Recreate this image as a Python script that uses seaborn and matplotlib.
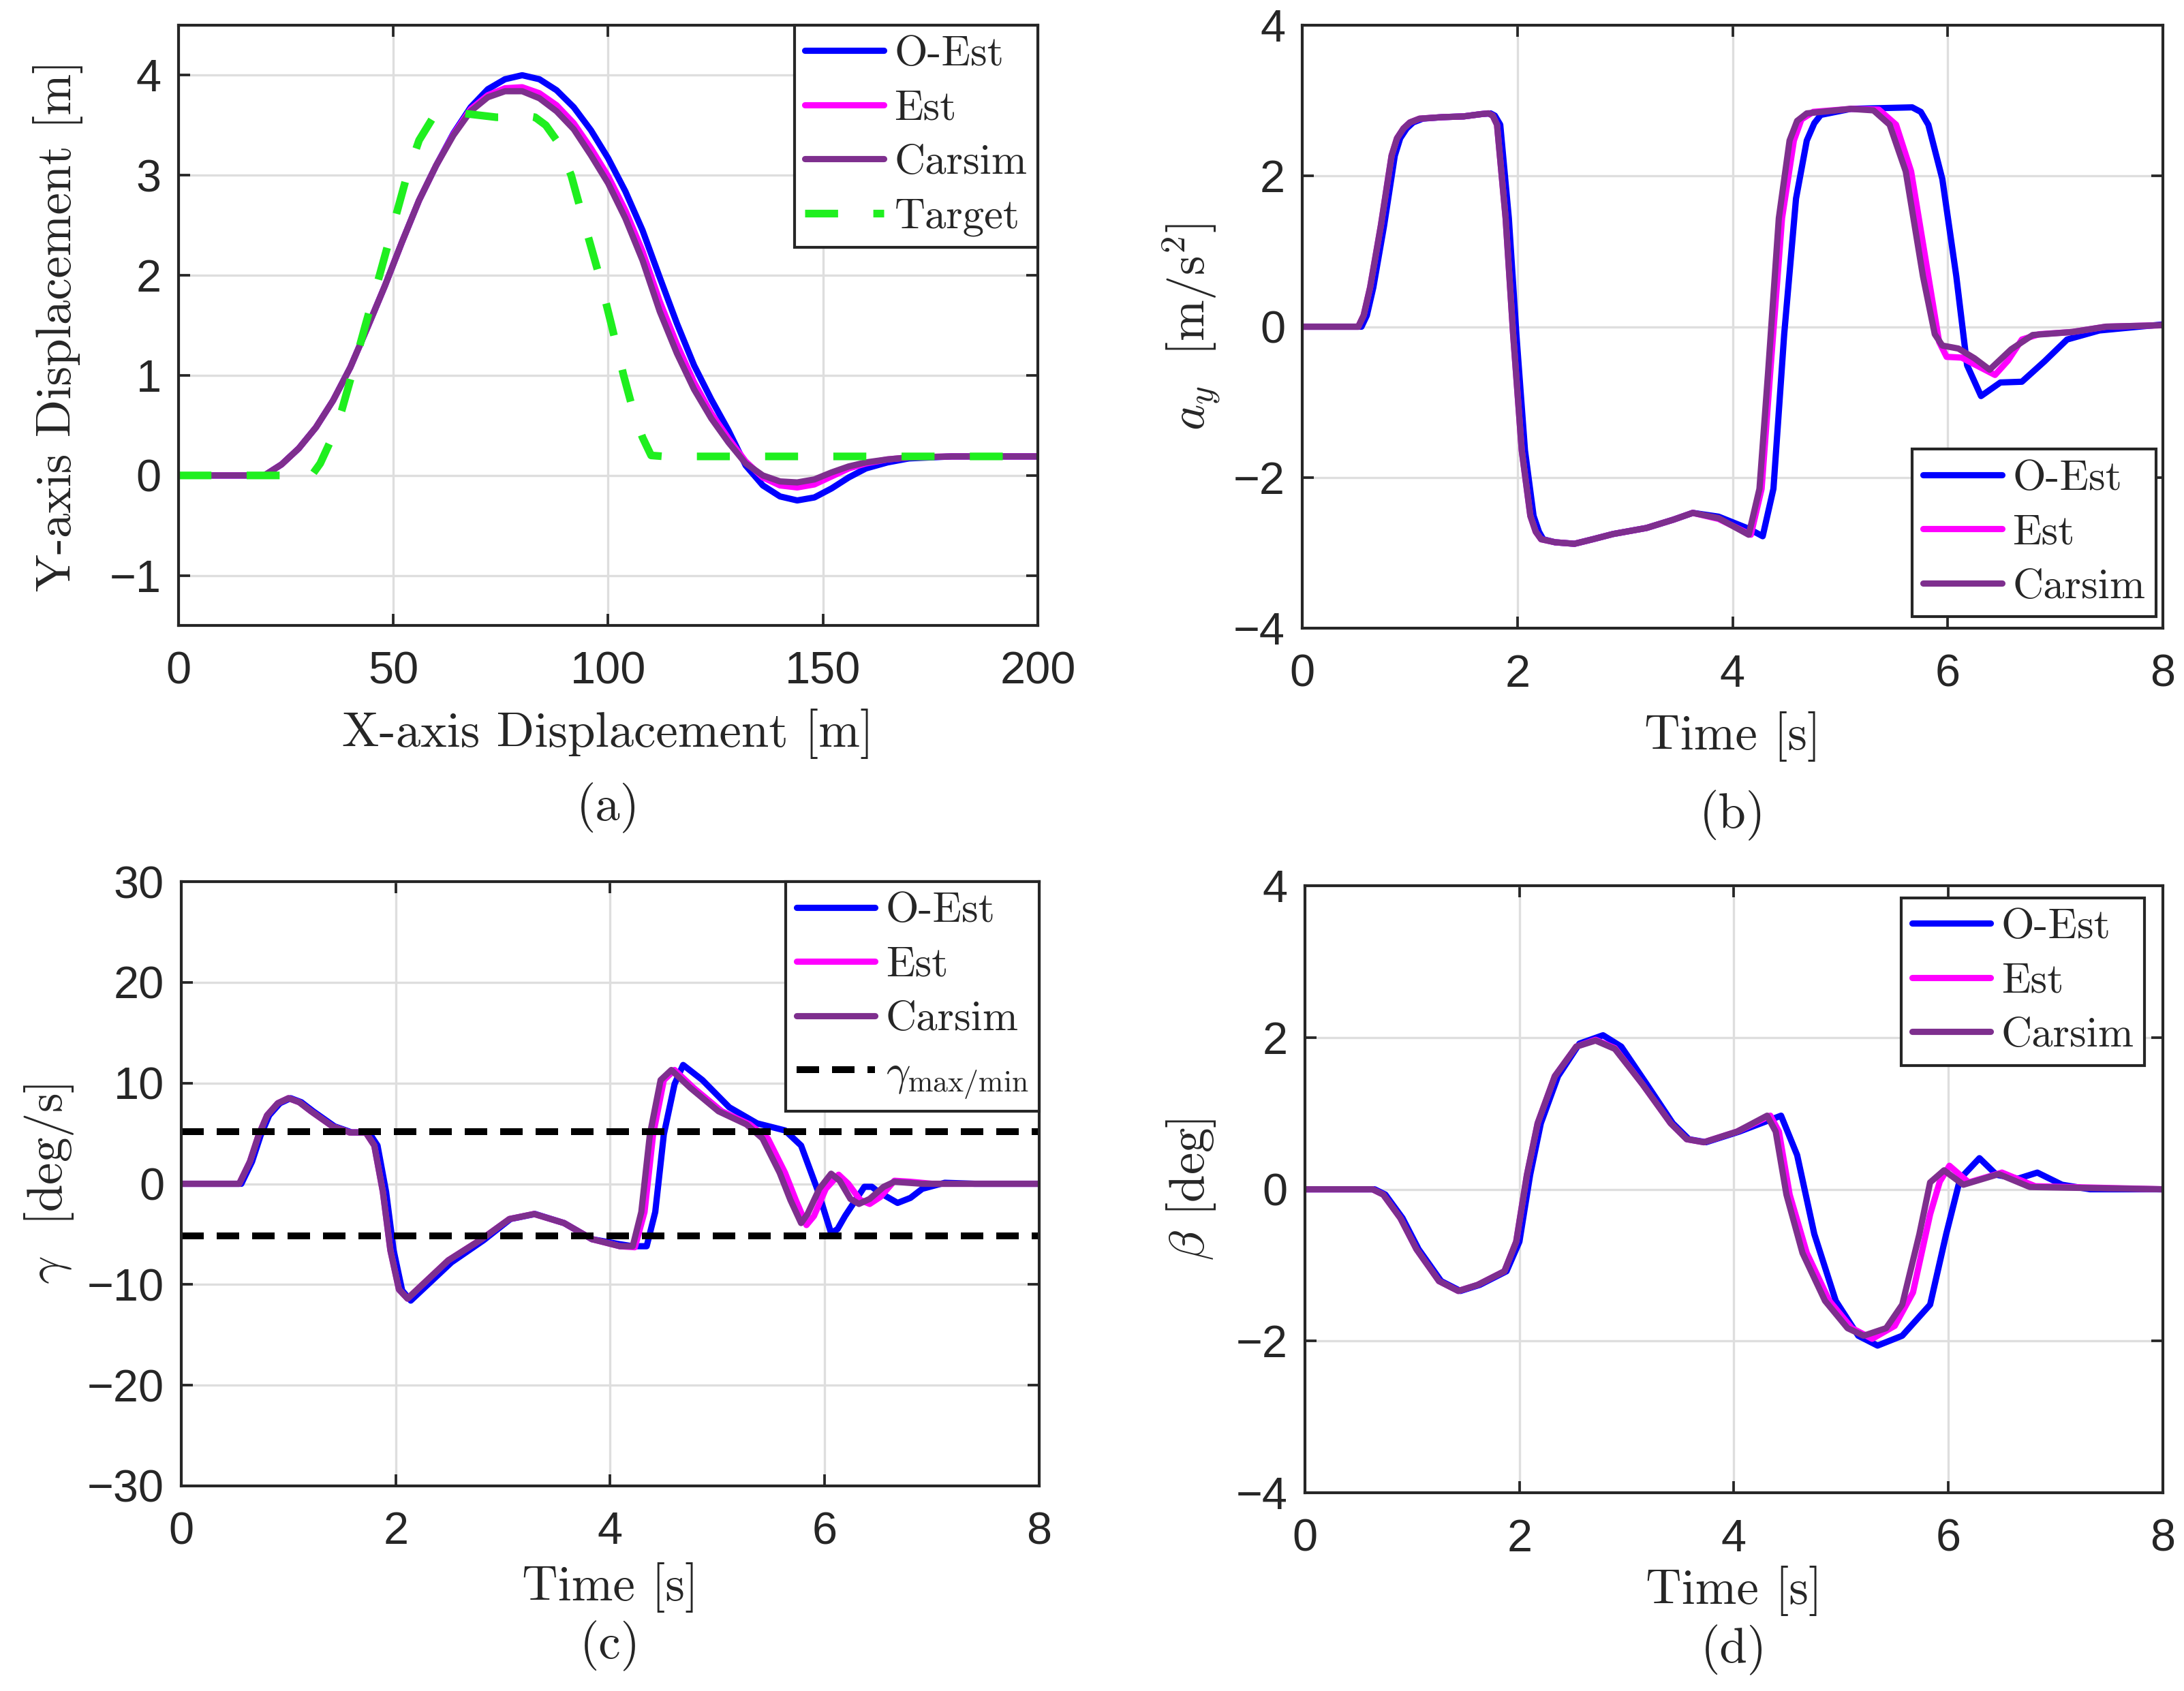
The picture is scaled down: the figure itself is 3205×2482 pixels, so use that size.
import matplotlib
matplotlib.use("Agg")
import matplotlib.pyplot as plt
import seaborn as sns

# ---------------- data ----------------
# (a) trajectory, x [m] / y [m]
carsim_a_x = [0, 20, 24, 28, 32, 36, 40, 44, 48, 52, 56, 60, 64, 68, 72, 76, 80, 84, 88, 92, 96,
              100, 104, 108, 112, 116, 120, 124, 128, 132, 136, 140, 144, 148, 152, 156, 160, 165,
              170, 180, 200]
carsim_a_y = [0, 0, 0.11, 0.27, 0.48, 0.75, 1.08, 1.48, 1.89, 2.33, 2.75, 3.10, 3.40, 3.64, 3.78,
              3.84, 3.84, 3.77, 3.64, 3.46, 3.20, 2.92, 2.57, 2.15, 1.64, 1.22, 0.86, 0.57, 0.33,
              0.12, 0.0, -0.06, -0.07, -0.04, 0.03, 0.09, 0.13, 0.16, 0.18, 0.19, 0.19]
est_a_y = [0, 0, 0.11, 0.27, 0.48, 0.75, 1.08, 1.48, 1.89, 2.33, 2.75, 3.10, 3.41, 3.66, 3.80,
           3.87, 3.88, 3.82, 3.70, 3.52, 3.27, 2.99, 2.65, 2.24, 1.74, 1.31, 0.93, 0.62, 0.37,
           0.14, -0.02, -0.10, -0.12, -0.09, -0.01, 0.07, 0.12, 0.16, 0.18, 0.19, 0.19]
oest_a_y = [0, 0, 0.11, 0.27, 0.48, 0.75, 1.08, 1.48, 1.89, 2.33, 2.75, 3.10, 3.42, 3.68, 3.86,
            3.96, 4.00, 3.96, 3.85, 3.68, 3.45, 3.17, 2.84, 2.45, 1.98, 1.52, 1.10, 0.76, 0.45,
            0.10, -0.10, -0.21, -0.25, -0.22, -0.13, -0.02, 0.07, 0.13, 0.17, 0.19, 0.19]
target_x = [0, 31, 33, 36, 38, 40.3, 43.5, 46.8, 50, 53.2, 56, 59, 62, 66, 70, 74, 77, 80, 83,
            85.5, 88, 91.4, 94.6, 97.9, 100.8, 103.6, 106, 108, 110, 113, 200]
target_y = [0, 0, 0.12, 0.40, 0.65, 1.0, 1.5, 2.0, 2.5, 3.0, 3.35, 3.56, 3.62, 3.62, 3.60, 3.58,
            3.58, 3.60, 3.58, 3.50, 3.35, 3.0, 2.5, 2.0, 1.5, 1.0, 0.62, 0.38, 0.20, 0.19, 0.19]

# (b) lateral acceleration a_y [m/s^2]
carsim_b_t = [0, 0.52, 0.57, 0.63, 0.73, 0.83, 0.88, 0.94, 1.00, 1.09, 1.30, 1.50, 1.66, 1.73,
              1.77, 1.81, 1.89, 1.96, 2.04, 2.12, 2.17, 2.22, 2.35, 2.53, 2.70, 2.89, 3.20, 3.45,
              3.63, 3.87, 4.15, 4.25, 4.33, 4.43, 4.53, 4.60, 4.69, 5.10, 5.31, 5.46, 5.61, 5.77,
              5.88, 5.95, 6.10, 6.25, 6.39, 6.59, 6.79, 7.16, 7.47, 8]
carsim_b_y = [0, 0, 0.15, 0.52, 1.34, 2.27, 2.50, 2.63, 2.71, 2.76, 2.78, 2.79, 2.82, 2.83,
              2.80, 2.68, 1.44, -0.10, -1.64, -2.51, -2.72, -2.82, -2.86, -2.88, -2.82, -2.75,
              -2.67, -2.56, -2.47, -2.54, -2.76, -2.15, -0.61, 1.44, 2.47, 2.73, 2.83, 2.89,
              2.87, 2.68, 2.06, 0.67, -0.10, -0.25, -0.29, -0.42, -0.57, -0.30, -0.11, -0.07, 0,
              0.02]
est_b_t = [0, 0.52, 0.57, 0.63, 0.73, 0.83, 0.88, 0.94, 1.00, 1.09, 1.30, 1.50, 1.66, 1.73,
           1.77, 1.81, 1.89, 1.96, 2.04, 2.12, 2.17, 2.22, 2.35, 2.53, 2.70, 2.89, 3.20, 3.45,
           3.63, 3.87, 4.17, 4.27, 4.35, 4.46, 4.57, 4.64, 4.75, 5.10, 5.36, 5.52, 5.66, 5.82,
           5.92, 5.99, 6.13, 6.25, 6.44, 6.56, 6.69, 6.85, 7.16, 7.47, 8]
est_b_y = [0, 0, 0.15, 0.52, 1.34, 2.27, 2.50, 2.63, 2.71, 2.76, 2.78, 2.79, 2.82, 2.83, 2.80,
           2.68, 1.44, -0.10, -1.64, -2.51, -2.72, -2.82, -2.86, -2.88, -2.82, -2.75, -2.67,
           -2.56, -2.47, -2.55, -2.76, -2.15, -0.61, 1.44, 2.47, 2.75, 2.85, 2.89, 2.88, 2.68,
           2.06, 0.67, -0.20, -0.40, -0.41, -0.50, -0.64, -0.45, -0.17, -0.10, -0.07, 0, 0.02]
oest_b_t = [0, 0.55, 0.60, 0.66, 0.76, 0.86, 0.91, 0.97, 1.03, 1.12, 1.30, 1.50, 1.66, 1.75,
            1.79, 1.84, 1.92, 1.99, 2.07, 2.15, 2.20, 2.24, 2.35, 2.53, 2.70, 2.89, 3.20, 3.45,
            3.63, 3.87, 4.15, 4.28, 4.38, 4.48, 4.59, 4.69, 4.76, 4.82, 5.10, 5.67, 5.75, 5.82,
            5.95, 6.08, 6.18, 6.31, 6.49, 6.69, 6.90, 7.11, 7.41, 8]
oest_b_y = [0, 0, 0.15, 0.52, 1.34, 2.27, 2.50, 2.63, 2.71, 2.76, 2.78, 2.79, 2.82, 2.83, 2.80,
            2.68, 1.44, -0.10, -1.64, -2.51, -2.72, -2.82, -2.86, -2.88, -2.82, -2.75, -2.67,
            -2.56, -2.47, -2.52, -2.68, -2.78, -2.15, -0.10, 1.70, 2.47, 2.70, 2.81, 2.89, 2.91,
            2.85, 2.68, 1.96, 0.67, -0.51, -0.92, -0.74, -0.73, -0.46, -0.17, -0.05, 0.03]

# (c) yaw rate gamma [deg/s]
carsim_c_t = [0, 0.54, 0.64, 0.72, 0.80, 0.90, 1.00, 1.10, 1.21, 1.41, 1.57, 1.72, 1.80, 1.88,
              1.95, 2.03, 2.11, 2.24, 2.49, 2.80, 3.06, 3.29, 3.57, 3.83, 4.09, 4.21, 4.29, 4.37,
              4.47, 4.57, 4.75, 5.01, 5.27, 5.42, 5.58, 5.68, 5.78, 5.84, 5.95, 6.06, 6.14, 6.24,
              6.32, 6.42, 6.55, 6.65, 6.91, 8]
carsim_c_y = [0, 0, 2.2, 4.8, 6.8, 8.0, 8.5, 8.1, 7.2, 5.7, 5.1, 5.1, 3.8, -0.8, -6.6, -10.5,
              -11.4, -10.1, -7.6, -5.5, -3.5, -3.0, -3.9, -5.5, -6.2, -6.2, -2.8, 4.9, 10.3, 11.3,
              9.5, 7.2, 5.9, 4.5, 1.1, -1.6, -3.9, -3.0, -0.5, 1.0, 0.3, -1.5, -2.0, -1.5, -0.3,
              0.2, 0, 0]
est_c_t = [0, 0.54, 0.64, 0.72, 0.80, 0.90, 1.00, 1.10, 1.21, 1.41, 1.57, 1.72, 1.80, 1.88,
           1.95, 2.03, 2.11, 2.24, 2.49, 2.80, 3.06, 3.29, 3.57, 3.83, 4.09, 4.23, 4.32, 4.40,
           4.50, 4.60, 4.78, 5.04, 5.30, 5.47, 5.63, 5.73, 5.83, 5.90, 6.01, 6.13, 6.22, 6.33,
           6.42, 6.52, 6.65, 6.80, 7.0, 8]
est_c_y = [0, 0, 2.2, 4.8, 6.8, 8.0, 8.5, 8.1, 7.2, 5.7, 5.1, 5.1, 3.8, -0.8, -6.6, -10.5,
           -11.4, -10.1, -7.6, -5.5, -3.5, -3.0, -3.9, -5.5, -6.2, -6.3, -2.8, 4.9, 10.3, 11.3,
           9.5, 7.2, 5.9, 4.5, 1.1, -1.6, -4.1, -3.2, -0.5, 0.9, 0.0, -1.6, -2.0, -1.3, 0.3,
           0.2, 0, 0]
oest_c_t = [0, 0.56, 0.66, 0.74, 0.82, 0.92, 1.02, 1.12, 1.23, 1.43, 1.59, 1.75, 1.83, 1.91,
            1.98, 2.06, 2.14, 2.27, 2.52, 2.82, 3.07, 3.30, 3.57, 3.83, 4.09, 4.21, 4.34, 4.42,
            4.50, 4.60, 4.68, 4.86, 5.11, 5.37, 5.63, 5.78, 5.86, 5.94, 6.06, 6.12, 6.19, 6.37,
            6.44, 6.50, 6.68, 6.80, 6.91, 7.12, 7.4, 8]
oest_c_y = [0, 0, 2.2, 4.8, 6.8, 8.0, 8.5, 8.1, 7.2, 5.7, 5.1, 5.1, 3.8, -0.8, -6.6, -10.6,
            -11.6, -10.3, -7.8, -5.6, -3.5, -3.0, -3.9, -5.5, -6.0, -6.2, -6.2, -2.8, 4.9, 9.9,
            11.8, 10.3, 7.6, 6.0, 5.3, 3.8, 1.5, -0.8, -4.9, -4.5, -3.2, -0.3, -0.3, -0.8, -1.9,
            -1.4, -0.5, 0.1, 0, 0]
gamma_max = 5.2
gamma_min = -5.2

# (d) sideslip beta [deg]
carsim_d_t = [0, 0.63, 0.73, 0.89, 1.04, 1.25, 1.43, 1.61, 1.86, 1.97, 2.07, 2.17, 2.33, 2.53,
              2.71, 2.89, 3.15, 3.41, 3.56, 3.72, 4.03, 4.31, 4.39, 4.49, 4.64, 4.85, 5.06, 5.21,
              5.42, 5.57, 5.73, 5.83, 5.96, 6.14, 6.47, 6.76, 8]
carsim_d_y = [0, 0, -0.07, -0.38, -0.79, -1.21, -1.34, -1.26, -1.08, -0.69, 0.19, 0.87, 1.49,
              1.88, 1.96, 1.85, 1.38, 0.87, 0.66, 0.62, 0.76, 0.97, 0.76, -0.07, -0.84, -1.47,
              -1.83, -1.93, -1.83, -1.52, -0.59, 0.09, 0.25, 0.06, 0.20, 0.03, 0]
est_d_t = [0, 0.63, 0.73, 0.89, 1.04, 1.25, 1.43, 1.61, 1.86, 1.97, 2.07, 2.17, 2.33, 2.53,
           2.71, 2.89, 3.15, 3.41, 3.56, 3.72, 4.03, 4.34, 4.42, 4.52, 4.68, 4.89, 5.10, 5.29,
           5.50, 5.67, 5.83, 5.92, 6.01, 6.19, 6.50, 6.81, 8]
est_d_y = [0, 0, -0.07, -0.38, -0.79, -1.21, -1.34, -1.26, -1.08, -0.69, 0.19, 0.87, 1.49,
           1.88, 1.97, 1.86, 1.38, 0.87, 0.66, 0.62, 0.76, 0.97, 0.76, -0.07, -0.84, -1.47,
           -1.83, -1.97, -1.80, -1.36, -0.33, 0.10, 0.31, 0.09, 0.22, 0.04, 0]
oest_d_t = [0, 0.65, 0.75, 0.91, 1.06, 1.27, 1.45, 1.63, 1.88, 2.00, 2.10, 2.20, 2.36, 2.56,
            2.78, 2.95, 3.18, 3.43, 3.58, 3.74, 4.05, 4.31, 4.44, 4.59, 4.75, 4.95, 5.16, 5.34,
            5.57, 5.83, 5.98, 6.11, 6.29, 6.45, 6.65, 6.83, 7.06, 7.32, 8]
oest_d_y = [0, 0, -0.07, -0.38, -0.79, -1.21, -1.34, -1.26, -1.08, -0.69, 0.19, 0.87, 1.49,
            1.92, 2.03, 1.88, 1.40, 0.87, 0.66, 0.62, 0.76, 0.90, 0.97, 0.45, -0.59, -1.47,
            -1.93, -2.06, -1.93, -1.52, -0.59, 0.14, 0.41, 0.19, 0.14, 0.22, 0.06, 0, 0]

labels = ["O-Est", "Est", "Carsim"]
colors = ["#0000ff", "#ff00ff", "#7e2f8e"]

# ---------------- styling ----------------
sns.set_style("ticks")
plt.rcParams["font.family"] = ["Liberation Sans", "DejaVu Sans"]
plt.rcParams["mathtext.fontset"] = "cm"

LW = 2.2
SERIF = "cmr10"
LABEL_FS = 17.5
TICK_FS = 16
LEG_FS = 15

fig = plt.figure(figsize=(3205 / 300, 2482 / 300), dpi=300)
ax_a = fig.add_axes([0.0817, 0.6301, 0.3935, 0.3550])
ax_b = fig.add_axes([0.5963, 0.6285, 0.3940, 0.3566])
ax_c = fig.add_axes([0.0830, 0.1213, 0.3928, 0.3573])
ax_d = fig.add_axes([0.5975, 0.1172, 0.3928, 0.3590])


def style(ax, xlim, xticks, ylim, yticks):
    ax.set_xlim(*xlim)
    ax.set_ylim(*ylim)
    ax.set_xticks(xticks)
    ax.set_yticks(yticks)
    ax.grid(True, color="#dedede", lw=0.8)
    ax.tick_params(direction="in", length=4, width=0.9, top=True, right=True,
                   labelsize=TICK_FS, colors="#262626")
    ax.tick_params(axis="x", pad=9)
    ax.tick_params(axis="y", pad=6)
    for s in ax.spines.values():
        s.set_color("#262626")
        s.set_linewidth(1.0)
    ax.set_axisbelow(True)


def curves(ax, xs, ys):
    for x, y, lab, c in zip(xs, ys, labels, colors):
        sns.lineplot(x=x, y=y, ax=ax, color=c, lw=LW, label=lab,
                     estimator=None, sort=False)


def labels_and_caption(ax, xlabel, ylabel, xl_y, yl_x, cap, cap_y):
    ax.set_xlabel(xlabel, fontfamily=SERIF, fontsize=LABEL_FS, color="#262626")
    ax.set_ylabel(ylabel, fontfamily=SERIF, fontsize=LABEL_FS, color="#262626")
    ax.xaxis.label.set_va("center")
    ax.yaxis.label.set_va("center")
    ax.xaxis.set_label_coords(0.5, xl_y)
    ax.yaxis.set_label_coords(yl_x, 0.5)
    ax.text(0.5, cap_y, cap, transform=ax.transAxes, ha="center", va="center",
            fontfamily=SERIF, fontsize=LABEL_FS, color="#262626")


def legend(ax, loc, anchor):
    leg = ax.legend(loc=loc, bbox_to_anchor=anchor, borderaxespad=0,
                    prop={"family": SERIF, "size": LEG_FS}, fancybox=False,
                    framealpha=1, edgecolor="#262626", handlelength=1.85,
                    handletextpad=0.25, borderpad=0.25, labelspacing=0.38)
    leg.get_frame().set_linewidth(1.0)


# (a)
curves(ax_a, [carsim_a_x] * 3, [oest_a_y, est_a_y, carsim_a_y])
sns.lineplot(x=target_x, y=target_y, ax=ax_a, color="#1fef1f", lw=2.7,
             dashes=(4.3, 4.6), label="Target", estimator=None, sort=False)
style(ax_a, (0, 200), range(0, 201, 50), (-1.5, 4.5), range(-1, 5))
labels_and_caption(ax_a, "X-axis Displacement [m]", "Y-axis Displacement [m]",
                   -0.18, -0.14, "(a)", -0.304)
legend(ax_a, "upper right", (1, 1))

# (b)
curves(ax_b, [oest_b_t, est_b_t, carsim_b_t], [oest_b_y, est_b_y, carsim_b_y])
style(ax_b, (0, 8), range(0, 9, 2), (-4, 4), range(-4, 5, 2))
labels_and_caption(ax_b, "Time [s]", r"$a_y\ \ [\mathrm{m/s^2}]$",
                   -0.18, -0.129, "(b)", -0.31)
legend(ax_b, "lower right", (0.992, 0.019))

# (c)
curves(ax_c, [oest_c_t, est_c_t, carsim_c_t], [oest_c_y, est_c_y, carsim_c_y])
ax_c.axhline(gamma_max, color="black", lw=2.4, dashes=(3.3, 1.9),
             label=r"$\gamma_{\mathrm{max/min}}$")
ax_c.axhline(gamma_min, color="black", lw=2.4, dashes=(3.3, 1.9))
style(ax_c, (0, 8), range(0, 9, 2), (-30, 30), range(-30, 31, 10))
labels_and_caption(ax_c, "Time [s]", r"$\gamma$  [deg/s]",
                   -0.168, -0.154, "(c)", -0.265)
legend(ax_c, "upper right", (1, 1))

# (d)
curves(ax_d, [oest_d_t, est_d_t, carsim_d_t], [oest_d_y, est_d_y, carsim_d_y])
style(ax_d, (0, 8), range(0, 9, 2), (-4, 4), range(-4, 5, 2))
labels_and_caption(ax_d, "Time [s]", r"$\beta$ [deg]",
                   -0.162, -0.133, "(d)", -0.259)
legend(ax_d, "upper right", (0.979, 0.98))

fig.savefig("out.png", dpi=300)
plt.close(fig)
